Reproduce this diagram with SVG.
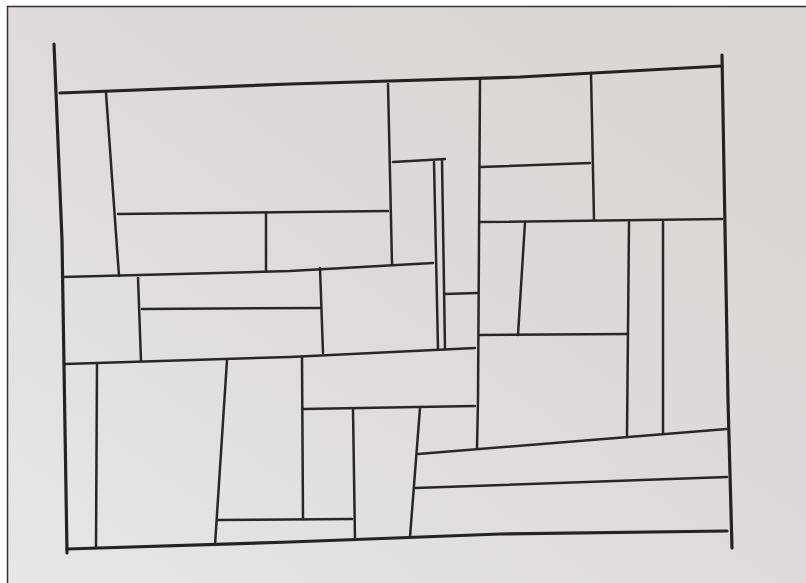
<svg xmlns="http://www.w3.org/2000/svg" width="806" height="583" viewBox="0 0 806 583">
<style>
.o{fill:none;stroke:#262220;stroke-width:3.2;stroke-linecap:round;stroke-linejoin:round}
.i{fill:none;stroke:#2a2624;stroke-width:2.5;stroke-linecap:round;stroke-linejoin:round}
</style>
<defs>
<linearGradient id="paper" x1="0" y1="1" x2="1" y2="0">
<stop offset="0" stop-color="#e9e6e4"/>
<stop offset="0.5" stop-color="#dfdad7"/>
<stop offset="1" stop-color="#dcd6d3"/>
</linearGradient>
</defs>
<rect x="0" y="0" width="806" height="583" fill="#ffffff"/>
<rect x="7" y="6" width="799" height="577" fill="url(#paper)"/>
<path d="M7.5,583 V6.5 H806" fill="none" stroke="#333" stroke-width="1.5"/>
<g id="outline">
<path class="o" d="M54,44 L62,240 L67,553"/>
<path class="o" d="M722,55 L728,400 L732,548"/>
<path class="o" d="M60,93 L290,84 L520,77 L722,66"/>
<path class="o" d="M67,549 L290,542 L500,534 L727,531"/>
</g>
<g id="partitions">
<path class="i" d="M106,93 L119,276"/>
<path class="i" d="M118,214 L388,211"/>
<path class="i" d="M266,213 L266,271"/>
<path class="i" d="M62,277 L290,271 L433,263"/>
<path class="i" d="M388,84 L392,264"/>
<path class="i" d="M393,162 L445,159"/>
<path class="i" d="M434,162 L438,349"/>
<path class="i" d="M442,160 L445,349"/>
<path class="i" d="M480,79 L478,400 L477,448"/>
<path class="i" d="M480,167 L590,163"/>
<path class="i" d="M591,73 L594,220"/>
<path class="i" d="M480,222 L722,219"/>
<path class="i" d="M525,222 L518,335"/>
<path class="i" d="M480,335 L628,334"/>
<path class="i" d="M629,222 L627,436"/>
<path class="i" d="M663,222 L663,433"/>
<path class="i" d="M418,454 L727,429"/>
<path class="i" d="M415,488 L727,477"/>
<path class="i" d="M138,278 L141,361"/>
<path class="i" d="M142,309 L320,308"/>
<path class="i" d="M320,268 L323,353"/>
<path class="i" d="M65,364 L290,357 L475,348"/>
<path class="i" d="M445,294 L477,293"/>
<path class="i" d="M97,363 L96,547"/>
<path class="i" d="M227,360 L215,545"/>
<path class="i" d="M218,520 L352,519"/>
<path class="i" d="M302,357 L303,519"/>
<path class="i" d="M303,409 L475,406"/>
<path class="i" d="M353,409 L355,540"/>
<path class="i" d="M420,408 L410,537"/>
</g>
</svg>
